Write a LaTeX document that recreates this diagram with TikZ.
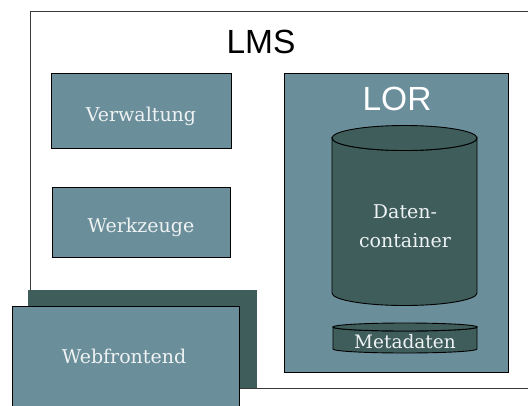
\documentclass[tikz,border=0pt]{standalone}
\usepackage{fontspec}
\setmainfont{DejaVu Serif}
\newfontfamily\titlesans{Liberation Sans}
\definecolor{panel}{HTML}{6B8E9B}
\definecolor{deep}{HTML}{3E5D5B}
\definecolor{frame}{HTML}{3A3A3A}
\definecolor{ink}{HTML}{EEF2F2}

\begin{document}
\begin{tikzpicture}[x=1pt,y=-1pt,
  panelbox/.style={draw=black, line width=1pt, fill=panel, inner sep=0pt},
  boxlabel/.style={text=ink, anchor=base, inner sep=0pt, font=\fontsize{19}{29}\selectfont},
  titlelabel/.style={anchor=base, inner sep=0pt, font=\titlesans\fontsize{33.5}{38}\selectfont},
  drum/.style={draw=black, line width=0.9pt, fill=deep}]
\useasboundingbox (0,0) rectangle (528,405);
\clip (0,0) rectangle (528,405);

% LMS frame (runs past the right edge)
\node[draw=frame, line width=0.8pt, anchor=north west, inner sep=0pt,
      minimum width=520pt, minimum height=377pt] (lms) at (30,11) {};
\node[titlelabel] (lmstitle) at (261,53) {LMS};

% left-hand components
\node[panelbox, minimum width=180pt, minimum height=75pt] (verw) at (141.5,110.5) {};
\node[boxlabel] at (141,121) {Verwaltung};
\node[panelbox, minimum width=178pt, minimum height=70pt] (werk) at (141,222) {};
\node[boxlabel] at (141,232) {Werkzeuge};

% web frontend with its backing block
\fill[deep] (28,290) rectangle (257,388);
\node[panelbox, anchor=north west, minimum width=227pt, minimum height=110pt] (web) at (12,306) {};
\node[boxlabel] at (124,363) {Webfrontend};

% learning object repository
\node[panelbox, minimum width=224pt, minimum height=299pt] (lor) at (396,222.5) {};
\node[titlelabel, text=white] (lortitle) at (397,110) {LOR};

% data container drum
\draw[drum] (332,138) -- (332,293)
  arc[start angle=180, end angle=0, x radius=72.5, y radius=12.5]
  -- (477,138)
  arc[start angle=0, end angle=180, x radius=72.5, y radius=12.5] -- cycle;
\draw[drum] (404.5,138) ellipse[x radius=72.5, y radius=12.5];
\node[boxlabel, anchor=center, align=center] (daten) at (405,226) {Daten-\\container};

% metadata disc
\draw[drum] (333,327) -- (333,349)
  arc[start angle=180, end angle=0, x radius=72, y radius=4]
  -- (477,327)
  arc[start angle=0, end angle=180, x radius=72, y radius=4] -- cycle;
\draw[drum] (405,327) ellipse[x radius=72, y radius=4];
\node[boxlabel, font=\fontsize{18.5}{22}\selectfont] (meta) at (405,348) {Metadaten};
\end{tikzpicture}
\end{document}
